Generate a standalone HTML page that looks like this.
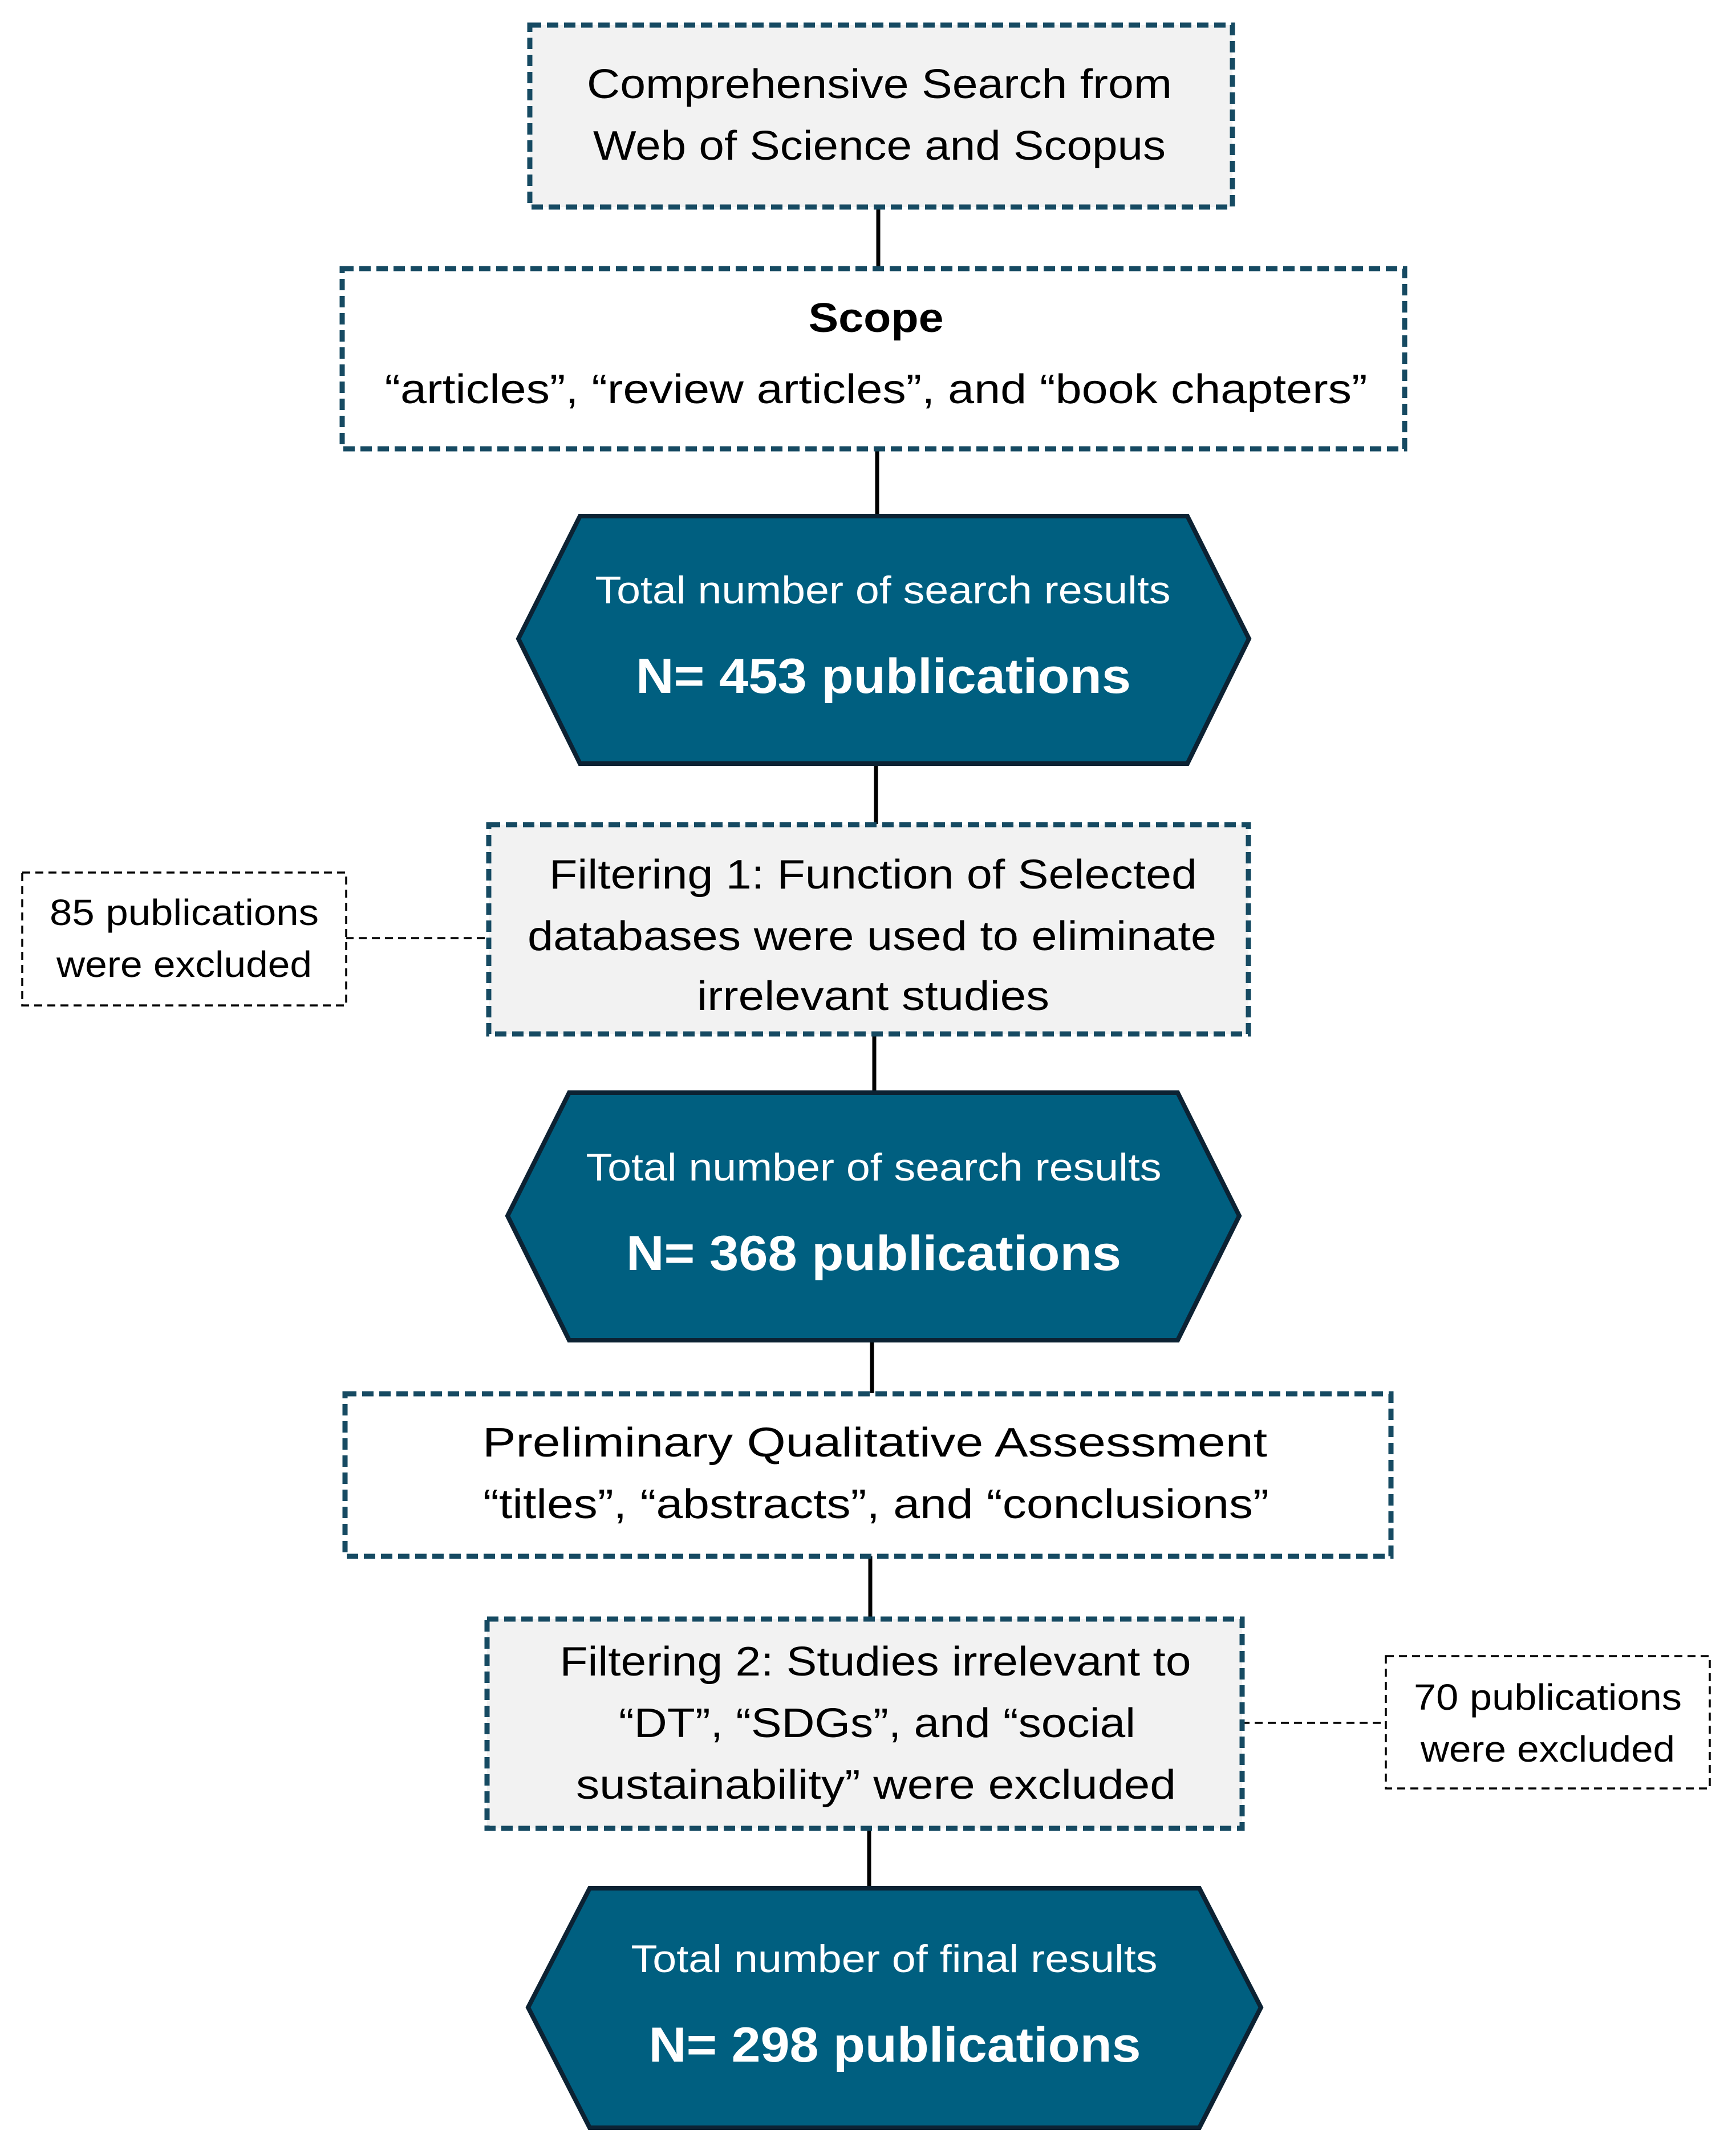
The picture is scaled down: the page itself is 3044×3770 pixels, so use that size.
<!DOCTYPE html>
<html><head><meta charset="utf-8"><style>html,body{margin:0;padding:0;background:#fff}svg{display:block}</style></head>
<body>
<svg width="3044" height="3770" viewBox="0 0 3044 3770" xmlns="http://www.w3.org/2000/svg" font-family="Liberation Sans, sans-serif">
<g stroke="#000" stroke-width="7">
<line x1="1540" y1="362" x2="1540" y2="470"/>
<line x1="1538" y1="786" x2="1538" y2="904"/>
<line x1="1536" y1="1338" x2="1536" y2="1445"/>
<line x1="1533" y1="1812" x2="1533" y2="1915"/>
<line x1="1529" y1="2349" x2="1529" y2="2443"/>
<line x1="1526" y1="2728" x2="1526" y2="2838"/>
<line x1="1524" y1="3205" x2="1524" y2="3310"/>
</g>
<g stroke="#000" stroke-width="3.5" stroke-dasharray="14,9" fill="none">
<line x1="606" y1="1645" x2="856" y2="1645"/>
<line x1="2177" y1="3021" x2="2428" y2="3021"/>
<rect x="39" y="1530" width="568" height="233" fill="#fff"/>
<rect x="2430" y="2904" width="568" height="232" fill="#fff"/>
</g>
<g stroke="#164a62" stroke-width="9" stroke-dasharray="20,10">
<rect x="929" y="44" width="1232" height="319" fill="#f2f2f2"/>
<rect x="600" y="471" width="1863" height="316" fill="#fff"/>
<rect x="857" y="1446" width="1332" height="367" fill="#f2f2f2"/>
<rect x="605" y="2444" width="1834" height="285" fill="#fff"/>
<rect x="854" y="2839" width="1324" height="367" fill="#f2f2f2"/>
</g>
<g fill="#005f80" stroke="#0c2233" stroke-width="8" stroke-linejoin="miter">
<polygon points="1017,905 2082,905 2190,1120 2082,1339 1017,1339 909,1120"/>
<polygon points="998,1916 2065,1916 2173,2132 2065,2350 998,2350 890,2132"/>
<polygon points="1034,3311 2103,3311 2211,3520 2103,3731 1034,3731 926,3520"/>
</g>
<g fill="#000" font-size="72" text-anchor="middle">
<text x="1542" y="172" textLength="1026" lengthAdjust="spacingAndGlyphs">Comprehensive Search from</text>
<text x="1542" y="280" textLength="1004" lengthAdjust="spacingAndGlyphs">Web of Science and Scopus</text>
<text x="1536" y="582" font-weight="bold" textLength="237" lengthAdjust="spacingAndGlyphs">Scope</text>
<text x="1536" y="707" textLength="1723" lengthAdjust="spacingAndGlyphs">“articles”, “review articles”, and “book chapters”</text>
<text x="1531" y="1558" textLength="1136" lengthAdjust="spacingAndGlyphs">Filtering 1: Function of Selected</text>
<text x="1529" y="1666" textLength="1208" lengthAdjust="spacingAndGlyphs">databases were used to eliminate</text>
<text x="1531" y="1771" textLength="618" lengthAdjust="spacingAndGlyphs">irrelevant studies</text>
<text x="1534" y="2554" textLength="1376" lengthAdjust="spacingAndGlyphs">Preliminary Qualitative Assessment</text>
<text x="1536" y="2662" textLength="1378" lengthAdjust="spacingAndGlyphs">“titles”, “abstracts”, and “conclusions”</text>
<text x="1535" y="2938" textLength="1107" lengthAdjust="spacingAndGlyphs">Filtering 2: Studies irrelevant to</text>
<text x="1538" y="3046" textLength="906" lengthAdjust="spacingAndGlyphs">“DT”, “SDGs”, and “social</text>
<text x="1536" y="3154" textLength="1052" lengthAdjust="spacingAndGlyphs">sustainability” were excluded</text>
</g>
<g fill="#000" font-size="64" text-anchor="middle">
<text x="323" y="1622" textLength="472" lengthAdjust="spacingAndGlyphs">85 publications</text>
<text x="323" y="1713" textLength="448" lengthAdjust="spacingAndGlyphs">were excluded</text>
<text x="2714" y="2998" textLength="470" lengthAdjust="spacingAndGlyphs">70 publications</text>
<text x="2714" y="3089" textLength="446" lengthAdjust="spacingAndGlyphs">were excluded</text>
</g>
<g fill="#fff" text-anchor="middle">
<text x="1548" y="1058" font-size="68" textLength="1009" lengthAdjust="spacingAndGlyphs">Total number of search results</text>
<text x="1549" y="1215" font-size="86" font-weight="bold" textLength="868" lengthAdjust="spacingAndGlyphs">N= 453 publications</text>
<text x="1532" y="2070" font-size="68" textLength="1009" lengthAdjust="spacingAndGlyphs">Total number of search results</text>
<text x="1532" y="2227" font-size="86" font-weight="bold" textLength="868" lengthAdjust="spacingAndGlyphs">N= 368 publications</text>
<text x="1568" y="3458" font-size="68" textLength="923" lengthAdjust="spacingAndGlyphs">Total number of final results</text>
<text x="1569" y="3615" font-size="86" font-weight="bold" textLength="863" lengthAdjust="spacingAndGlyphs">N= 298 publications</text>
</g>
</svg>
</body></html>
